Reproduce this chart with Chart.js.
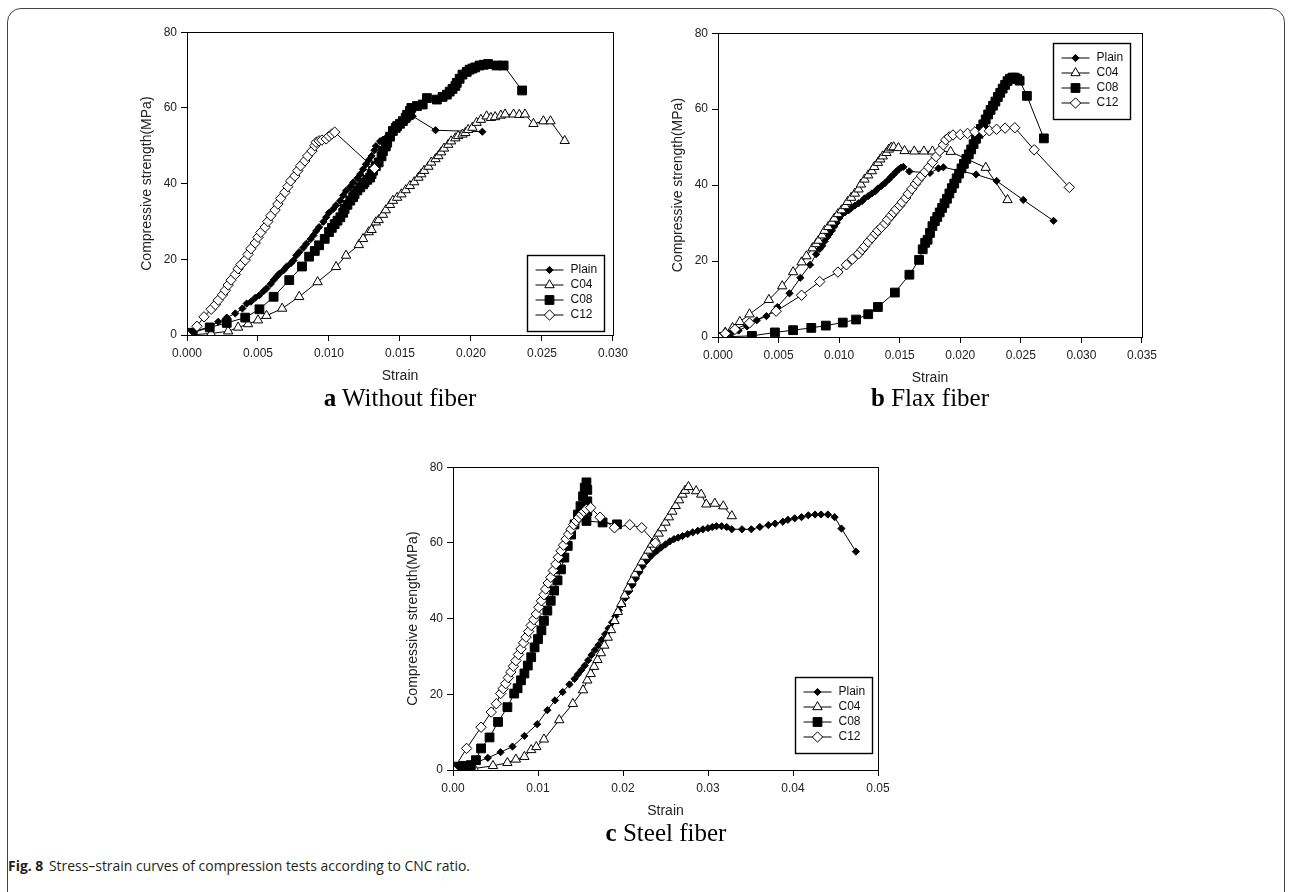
<!DOCTYPE html>
<html>
<head>
<meta charset="utf-8">
<script src="https://cdn.jsdelivr.net/npm/chart.js@4.4.0/dist/chart.umd.min.js"></script>
<style>
  body { margin: 0; background: #fff; width: 1290px; height: 892px; overflow: hidden; position: relative; }
  .frame { position: absolute; left: 7px; top: 8px; width: 1276px; height: 900px; border: 1px solid #444; border-radius: 14px; }
  canvas { position: absolute; }
  .sub { position: absolute; font-family: "Liberation Serif", "Times New Roman", serif; font-size: 25px; color: #000; white-space: nowrap; transform: translateX(-50%); }
  .sub b { font-weight: bold; }
  .caption { position: absolute; left: 8px; top: 855px; font-family: "Open Sans", sans-serif; font-size: 15px; color: #231f20; white-space: nowrap; transform-origin: 0 0; }
  .caption b { font-weight: 700; margin-right: 6px; }
</style>
</head>
<body>
<div class="frame"></div>
<canvas id="panelA" width="506" height="364" style="left:127px; top:21px;"></canvas>
<canvas id="panelB" width="504" height="365" style="left:658px; top:22px;"></canvas>
<canvas id="panelC" width="505" height="364" style="left:393px; top:456px;"></canvas>
<div class="sub" style="left:400px; top:384px;"><b>a</b> Without fiber</div>
<div class="sub" style="left:930px; top:384px;"><b>b</b> Flax fiber</div>
<div class="sub" style="left:666px; top:819px;"><b>c</b> Steel fiber</div>
<div class="caption" id="caption"><b>Fig. 8</b>Stress–strain curves of compression tests according to CNC ratio.</div>
<script>
// Stress-strain curves, [strain, stress MPa] pairs per mix

// (a) without fiber
const aPlain = [[0,0],[0.0005,0.9],[0.0016,2.2],[0.0022,3.5],[0.0028,4.6],[0.0034,5.7],[0.0039,7.0],[0.0042,8.3],[0.0045,8.8],[0.0048,9.8],[0.0051,10.5],[0.0054,11.6],[0.0056,12.3],[0.0059,13.5],[0.0061,14.5],[0.0063,15.4],[0.0065,16.2],[0.0068,17.1],[0.0070,18.0],[0.0073,18.9],[0.0075,19.7],[0.0077,21.0],[0.0079,21.9],[0.0082,23.1],[0.0084,24.1],[0.0087,25.3],[0.0089,26.3],[0.0091,27.5],[0.0093,28.5],[0.0096,29.9],[0.0098,31.1],[0.0100,32.3],[0.0103,33.3],[0.0105,34.3],[0.0108,35.5],[0.0110,36.9],[0.0112,38.1],[0.0115,39.2],[0.0117,40.3],[0.0120,41.4],[0.0122,42.5],[0.0124,43.8],[0.0126,45.1],[0.0128,46.2],[0.0130,47.3],[0.0132,48.8],[0.0133,49.9],[0.0136,51.2],[0.0138,51.6],[0.0141,52.4],[0.0144,53.4],[0.0147,54.2],[0.0150,55.1],[0.0153,56.0],[0.0156,57.0],[0.0159,57.8],[0.0175,54.1],[0.0208,53.7]];
const aC04 = [[0,0],[0.0017,0.4],[0.0029,1.0],[0.0036,2.0],[0.0043,2.9],[0.0050,3.9],[0.0056,5.1],[0.0067,7.0],[0.0079,10.1],[0.0092,14.0],[0.0105,18.0],[0.0112,21.0],[0.0121,23.8],[0.0124,25.4],[0.0128,27.2],[0.0130,27.8],[0.0133,29.8],[0.0135,30.4],[0.0138,31.8],[0.0140,33.0],[0.0143,34.4],[0.0145,35.5],[0.0148,36.3],[0.0151,37.2],[0.0154,38.3],[0.0157,39.4],[0.0160,40.4],[0.0163,41.6],[0.0165,42.5],[0.0167,43.4],[0.0170,44.5],[0.0172,45.6],[0.0175,46.5],[0.0177,47.3],[0.0179,48.3],[0.0181,49.3],[0.0184,50.3],[0.0186,51.2],[0.0189,52.0],[0.0191,52.6],[0.0194,53.0],[0.0196,53.4],[0.0198,54.2],[0.0201,54.8],[0.0204,56.1],[0.0207,56.9],[0.0211,57.8],[0.0214,57.4],[0.0217,57.6],[0.0221,58.0],[0.0224,58.3],[0.0230,58.3],[0.0234,58.2],[0.0238,58.3],[0.0244,55.8],[0.0251,56.5],[0.0256,56.5],[0.0266,51.3]];
const aC08 = [[0,0],[0.0004,0.6],[0.0016,2.0],[0.0028,3.2],[0.0041,4.6],[0.0051,6.8],[0.0061,10.1],[0.0072,14.5],[0.0081,18.1],[0.0086,20.7],[0.0090,22.2],[0.0093,23.7],[0.0097,25.4],[0.0100,27.2],[0.0102,28.3],[0.0104,29.3],[0.0106,30.2],[0.0108,31.1],[0.0110,32.3],[0.0111,33.3],[0.0113,34.4],[0.0115,35.5],[0.0117,36.4],[0.0118,37.2],[0.0120,38.2],[0.0122,39.0],[0.0124,39.8],[0.0125,40.3],[0.0127,41.0],[0.0129,41.6],[0.0130,42.5],[0.0131,43.4],[0.0133,44.6],[0.0135,45.6],[0.0137,47.2],[0.0138,48.6],[0.0140,49.8],[0.0141,50.8],[0.0143,52.4],[0.0145,53.9],[0.0147,54.7],[0.0148,55.2],[0.0150,55.8],[0.0152,56.5],[0.0154,57.4],[0.0155,58.2],[0.0157,59.2],[0.0158,60.0],[0.0162,60.5],[0.0166,60.9],[0.0169,62.6],[0.0176,62.2],[0.0180,62.9],[0.0183,63.5],[0.0185,64.3],[0.0187,65.0],[0.0189,65.8],[0.0190,66.6],[0.0192,67.7],[0.0194,68.8],[0.0197,69.5],[0.0199,70.1],[0.0201,70.4],[0.0203,70.7],[0.0206,71.2],[0.0209,71.4],[0.0212,71.6],[0.0218,71.2],[0.0223,71.2],[0.0236,64.6]];
const aC12 = [[0,0],[0.0007,2.3],[0.0012,4.8],[0.0017,6.8],[0.0020,8.0],[0.0022,9.2],[0.0025,10.6],[0.0027,11.8],[0.0029,13.2],[0.0031,14.5],[0.0034,16.0],[0.0036,17.5],[0.0038,18.6],[0.0041,19.8],[0.0043,21.3],[0.0045,22.8],[0.0048,24.3],[0.0050,25.8],[0.0052,27.1],[0.0055,28.5],[0.0057,30.0],[0.0059,31.5],[0.0062,33.0],[0.0064,34.6],[0.0066,36.1],[0.0069,37.7],[0.0071,39.2],[0.0073,40.7],[0.0076,42.0],[0.0078,43.4],[0.0080,44.7],[0.0083,46.0],[0.0085,47.3],[0.0088,48.6],[0.0090,50.0],[0.0091,50.9],[0.0093,51.3],[0.0095,51.5],[0.0098,51.8],[0.0100,52.5],[0.0102,53.1],[0.0104,53.6],[0.0132,44.0]];

// (b) flax fiber
const bPlain = [[0,0],[0.0011,0.9],[0.0017,1.7],[0.0024,2.8],[0.0032,4.4],[0.0040,5.5],[0.0049,7.9],[0.0059,11.5],[0.0068,15.6],[0.0076,19.0],[0.0081,21.8],[0.0084,23.2],[0.0086,24.0],[0.0088,25.2],[0.0090,26.2],[0.0092,27.1],[0.0094,28.0],[0.0096,29.1],[0.0098,30.1],[0.0100,31.3],[0.0102,32.2],[0.0105,32.9],[0.0108,33.4],[0.0110,34.0],[0.0113,34.6],[0.0116,35.2],[0.0119,35.8],[0.0121,36.5],[0.0124,37.1],[0.0127,37.8],[0.0130,38.4],[0.0132,39.1],[0.0135,39.8],[0.0138,40.6],[0.0141,41.5],[0.0143,42.2],[0.0145,42.8],[0.0147,43.5],[0.0149,44.1],[0.0151,44.6],[0.0153,44.8],[0.0158,43.6],[0.0175,43.2],[0.0182,44.4],[0.0186,44.7],[0.0213,42.8],[0.0230,41.1],[0.0252,36.1],[0.0277,30.6]];
const bC04 = [[0,0],[0.0006,1.2],[0.0012,2.4],[0.0018,4.0],[0.0026,6.0],[0.0042,9.8],[0.0053,13.4],[0.0062,17.1],[0.0069,19.7],[0.0073,21.3],[0.0078,23.4],[0.0081,24.5],[0.0083,25.4],[0.0086,26.8],[0.0088,28.0],[0.0091,29.0],[0.0094,30.2],[0.0096,31.2],[0.0099,32.4],[0.0102,33.4],[0.0105,34.5],[0.0107,35.6],[0.0110,36.7],[0.0113,37.8],[0.0116,38.9],[0.0118,40.2],[0.0121,41.5],[0.0124,42.6],[0.0127,43.7],[0.0129,44.8],[0.0132,45.9],[0.0134,46.8],[0.0136,47.6],[0.0139,48.5],[0.0141,49.4],[0.0143,49.9],[0.0145,50.0],[0.0149,49.8],[0.0154,49.0],[0.0162,48.9],[0.0170,48.9],[0.0177,48.9],[0.0192,48.8],[0.0221,44.6],[0.0239,36.1]];
const bC08 = [[0,0],[0.0028,0.3],[0.0047,1.2],[0.0062,1.8],[0.0077,2.4],[0.0089,3.0],[0.0103,3.8],[0.0114,4.6],[0.0124,6.0],[0.0132,7.9],[0.0146,11.7],[0.0158,16.4],[0.0166,20.3],[0.0169,23.1],[0.0171,24.8],[0.0173,25.6],[0.0175,27.4],[0.0177,29.2],[0.0179,30.5],[0.0181,31.6],[0.0183,32.8],[0.0185,34.0],[0.0187,35.2],[0.0189,36.4],[0.0191,37.8],[0.0193,39.2],[0.0195,40.4],[0.0197,41.8],[0.0199,43.0],[0.0201,44.4],[0.0203,45.6],[0.0205,46.9],[0.0207,48.1],[0.0209,49.4],[0.0211,50.8],[0.0213,52.2],[0.0215,53.5],[0.0217,54.8],[0.0219,56.0],[0.0221,57.3],[0.0223,58.6],[0.0225,59.8],[0.0227,60.9],[0.0229,62.0],[0.0231,63.2],[0.0233,64.3],[0.0235,65.4],[0.0237,66.4],[0.0239,67.4],[0.0241,68.0],[0.0243,68.3],[0.0245,68.3],[0.0247,68.0],[0.0249,67.5],[0.0255,63.5],[0.0269,52.3]];
const bC12 = [[0,0],[0.0006,0.9],[0.0014,2.0],[0.0026,3.7],[0.0048,6.8],[0.0069,11.0],[0.0084,14.6],[0.0099,17.1],[0.0106,19.0],[0.0111,20.5],[0.0116,21.9],[0.0119,23.0],[0.0121,23.8],[0.0124,25.0],[0.0127,26.1],[0.0130,27.2],[0.0132,28.0],[0.0135,28.9],[0.0138,29.9],[0.0140,30.9],[0.0143,32.0],[0.0145,32.8],[0.0147,33.6],[0.0150,34.6],[0.0152,35.5],[0.0155,36.6],[0.0157,37.7],[0.0160,39.0],[0.0163,40.3],[0.0165,41.2],[0.0168,42.4],[0.0171,43.5],[0.0174,44.7],[0.0177,46.0],[0.0180,47.5],[0.0183,49.0],[0.0186,50.6],[0.0188,51.9],[0.0191,52.7],[0.0194,53.2],[0.0200,53.3],[0.0206,53.6],[0.0212,54.0],[0.0219,54.1],[0.0224,54.3],[0.0230,54.7],[0.0237,55.0],[0.0245,55.1],[0.0261,49.3],[0.0290,39.4]];

// (c) steel fiber
const cPlain = [[0,0],[0.0011,0.9],[0.0025,1.8],[0.0041,3.2],[0.0056,4.7],[0.0070,6.2],[0.0084,9.0],[0.0099,12.1],[0.0111,15.8],[0.0120,18.4],[0.0129,20.6],[0.0137,22.6],[0.0143,24.1],[0.0147,25.3],[0.0151,26.4],[0.0155,27.6],[0.0159,29.0],[0.0163,30.4],[0.0167,31.7],[0.0171,33.0],[0.0175,34.4],[0.0179,35.9],[0.0183,37.4],[0.0187,39.0],[0.0191,40.6],[0.0195,42.2],[0.0199,43.8],[0.0203,45.5],[0.0207,47.2],[0.0211,48.9],[0.0215,50.6],[0.0219,52.2],[0.0223,53.8],[0.0227,55.1],[0.0231,56.1],[0.0235,57.0],[0.0240,57.9],[0.0245,58.8],[0.0250,59.6],[0.0255,60.4],[0.0260,61.0],[0.0265,61.4],[0.0270,61.8],[0.0276,62.3],[0.0282,62.8],[0.0288,63.2],[0.0294,63.6],[0.0300,63.9],[0.0305,64.2],[0.0310,64.4],[0.0316,64.4],[0.0322,64.2],[0.0328,63.6],[0.0340,63.6],[0.0351,63.6],[0.0361,64.2],[0.0371,64.7],[0.0379,65.1],[0.0388,65.6],[0.0394,66.1],[0.0402,66.5],[0.0410,66.8],[0.0418,67.3],[0.0426,67.5],[0.0433,67.5],[0.0441,67.5],[0.0449,66.8],[0.0457,63.8],[0.0474,57.7]];
const cC04 = [[0,0],[0.0025,0.4],[0.0047,1.1],[0.0064,1.9],[0.0074,2.8],[0.0084,3.5],[0.0092,5.3],[0.0098,6.1],[0.0107,8.1],[0.0125,13.2],[0.0141,17.5],[0.0153,21.1],[0.0158,23.7],[0.0162,25.4],[0.0166,27.3],[0.0170,29.1],[0.0174,30.9],[0.0178,32.9],[0.0182,35.0],[0.0186,37.0],[0.0190,39.4],[0.0194,41.8],[0.0198,43.9],[0.0202,46.1],[0.0206,48.0],[0.0210,49.9],[0.0214,51.7],[0.0218,53.2],[0.0222,54.9],[0.0226,56.4],[0.0230,58.0],[0.0234,59.6],[0.0238,61.0],[0.0242,62.5],[0.0246,63.9],[0.0250,65.4],[0.0254,66.8],[0.0258,68.3],[0.0262,69.8],[0.0266,71.3],[0.0270,72.8],[0.0273,73.8],[0.0277,74.8],[0.0286,73.7],[0.0292,72.8],[0.0298,70.2],[0.0308,70.4],[0.0318,69.7],[0.0328,67.1]];
const cC08 = [[0,0],[0.0005,0.9],[0.0013,1.1],[0.0021,1.3],[0.0027,2.6],[0.0033,5.7],[0.0043,8.6],[0.0053,12.7],[0.0064,16.6],[0.0072,20.2],[0.0076,21.6],[0.0080,23.7],[0.0084,25.5],[0.0088,27.6],[0.0092,29.8],[0.0096,32.4],[0.0100,34.6],[0.0104,36.9],[0.0107,39.4],[0.0111,42.1],[0.0115,44.7],[0.0119,47.4],[0.0123,50.1],[0.0127,53.0],[0.0131,56.1],[0.0135,59.2],[0.0139,62.2],[0.0143,64.9],[0.0147,67.5],[0.0150,69.7],[0.0153,72.3],[0.0155,74.6],[0.0157,76.0],[0.0158,74.0],[0.0158,71.0],[0.0158,68.3],[0.0157,65.8],[0.0176,65.4],[0.0193,64.9]];
const cC12 = [[0,0],[0.0016,5.7],[0.0033,11.3],[0.0045,15.3],[0.0051,17.5],[0.0056,20.2],[0.0059,21.5],[0.0062,22.8],[0.0065,24.4],[0.0068,25.9],[0.0071,27.4],[0.0074,28.9],[0.0077,30.5],[0.0080,32.0],[0.0083,33.6],[0.0086,35.1],[0.0089,36.6],[0.0092,38.2],[0.0095,39.7],[0.0098,41.2],[0.0101,43.0],[0.0104,44.7],[0.0107,46.3],[0.0109,47.8],[0.0112,49.4],[0.0115,50.9],[0.0118,52.7],[0.0121,54.4],[0.0124,56.2],[0.0127,57.9],[0.0130,59.4],[0.0133,61.0],[0.0136,62.3],[0.0139,63.6],[0.0142,64.8],[0.0145,65.8],[0.0148,66.7],[0.0151,67.5],[0.0154,68.3],[0.0157,68.9],[0.0162,69.3],[0.0173,66.8],[0.0190,64.0],[0.0208,64.8],[0.0222,64.0],[0.0238,60.0]];

const seriesNames = ['Plain', 'C04', 'C08', 'C12'];
const stressTicks = [0, 20, 40, 60, 80];
const strainTicksA = [0, 0.005, 0.010, 0.015, 0.020, 0.025, 0.030];
const strainTicksB = [0, 0.005, 0.010, 0.015, 0.020, 0.025, 0.030, 0.035];
const strainTicksC = [0, 0.01, 0.02, 0.03, 0.04, 0.05];

// marker look for each mix, same order as seriesNames
const markers = [
  { style: 'rectRot', fill: '#000', radius: 3.6 },
  { style: 'triangle', fill: '#fff', radius: 5.4 },
  { style: 'rect', fill: '#000', radius: 6.2 },
  { style: 'rectRot', fill: '#fff', radius: 5.2 }
];

const axisFont = '"Liberation Sans", Arial, sans-serif';

// box around the plot plus the small legend inside it
const frameLegend = {
  id: 'frameLegend',
  afterDraw(chart, args, opts) {
    const ctx = chart.ctx;
    const area = chart.chartArea;
    ctx.save();
    ctx.strokeStyle = '#000';
    ctx.lineWidth = 1;
    ctx.strokeRect(Math.round(area.left) + 0.5, Math.round(area.top) + 0.5,
      Math.round(area.right - area.left), Math.round(area.bottom - area.top));

    const w = 77, h = 76;
    const bx = Math.round(area.right - opts.right - w) + 0.5;
    const by = Math.round(opts.top != null ? area.top + opts.top : area.bottom - opts.bottom - h) + 0.5;
    ctx.fillStyle = '#fff';
    ctx.fillRect(bx, by, w, h);
    ctx.lineWidth = 1.4;
    ctx.strokeRect(bx, by, w, h);

    ctx.font = '12px ' + axisFont;
    ctx.textBaseline = 'middle';
    seriesNames.forEach((name, i) => {
      const y = by + 14.5 + i * 15;
      ctx.strokeStyle = '#000';
      ctx.lineWidth = 1;
      ctx.beginPath();
      ctx.moveTo(bx + 8, y);
      ctx.lineTo(bx + 36, y);
      ctx.stroke();
      const m = markers[i];
      ctx.fillStyle = m.fill;
      Chart.helpers.drawPoint(ctx, { pointStyle: m.style, radius: m.radius, borderWidth: 1, rotation: 0 }, bx + 22, y);
      ctx.fillStyle = '#111';
      ctx.fillText(name, bx + 43, y);
    });
    ctx.restore();
  }
};

function buildPanel(canvasId, series, strainTicks, digits, legendPos) {
  const datasets = series.map((pts, i) => ({
    label: seriesNames[i],
    data: pts.map(p => ({ x: p[0], y: p[1] })),
    showLine: true,
    borderColor: '#000',
    borderWidth: 1,
    pointStyle: markers[i].style,
    pointRadius: markers[i].radius,
    pointBackgroundColor: markers[i].fill,
    pointBorderColor: '#000',
    pointBorderWidth: 1,
    order: 4 - i
  }));

  return new Chart(document.getElementById(canvasId), {
    type: 'scatter',
    data: { datasets },
    plugins: [frameLegend],
    options: {
      responsive: false,
      animation: false,
      devicePixelRatio: 1,
      layout: { padding: { top: 10, right: 20, left: 0, bottom: 0 } },
      plugins: {
        legend: { display: false },
        tooltip: { enabled: false },
        frameLegend: legendPos
      },
      scales: {
        x: {
          type: 'linear',
          min: strainTicks[0],
          max: strainTicks[strainTicks.length - 1],
          afterBuildTicks: s => { s.ticks = strainTicks.map(v => ({ value: v })); },
          afterFit: s => { s.height = 50; },
          ticks: {
            autoSkip: false, maxRotation: 0, padding: 5, color: '#222',
            font: { family: axisFont, size: 12 },
            callback: v => v.toFixed(digits)
          },
          grid: { drawOnChartArea: false, tickLength: 6, color: '#000' },
          border: { color: '#000', width: 1 },
          title: { display: true, text: 'Strain', color: '#222', font: { family: axisFont, size: 14 }, padding: { top: 0, bottom: 0 } }
        },
        y: {
          type: 'linear',
          min: stressTicks[0],
          max: stressTicks[stressTicks.length - 1],
          afterBuildTicks: s => { s.ticks = stressTicks.map(v => ({ value: v })); },
          afterFit: s => { s.width = 60; },
          ticks: {
            padding: 4, color: '#222',
            font: { family: axisFont, size: 12 }
          },
          grid: { drawOnChartArea: false, tickLength: 6, color: '#000' },
          border: { color: '#000', width: 1 },
          title: { display: true, text: 'Compressive strength(MPa)', color: '#222', font: { family: axisFont, size: 14 }, padding: { top: 12, bottom: 0 } }
        }
      }
    }
  });
}

buildPanel('panelA', [aPlain, aC04, aC08, aC12], strainTicksA, 3, { right: 9, bottom: 4 });
buildPanel('panelB', [bPlain, bC04, bC08, bC12], strainTicksB, 3, { right: 12, top: 10 });
buildPanel('panelC', [cPlain, cC04, cC08, cC12], strainTicksC, 2, { right: 6, bottom: 17 });

// squeeze the caption to the printed width
const cap = document.getElementById('caption');
const natural = cap.getBoundingClientRect().width;
cap.style.transform = 'scaleX(' + (462 / natural).toFixed(4) + ')';
</script>
</body>
</html>
